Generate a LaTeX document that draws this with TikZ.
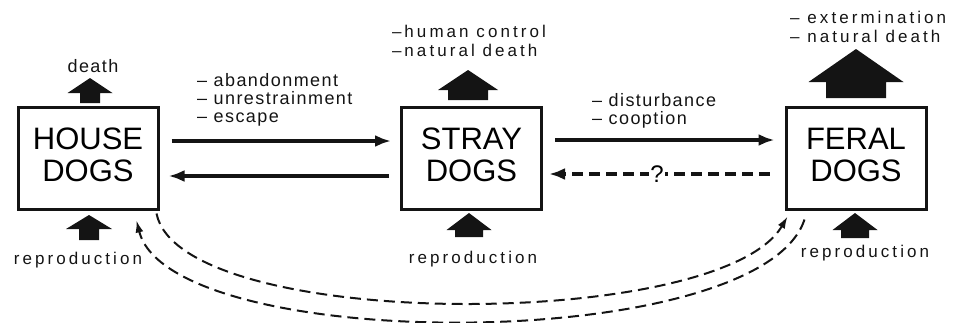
\documentclass[tikz,border=0pt]{standalone}
\usepackage{fontspec}
\setmainfont{Liberation Sans}
\newfontfamily\labfont[LetterSpace=8]{Liberation Sans}
\newfontfamily\widefont[LetterSpace=18]{Liberation Sans}
\usetikzlibrary{arrows.meta,calc}
\definecolor{ink}{HTML}{141414}
\tikzset{
  >={Latex[length=16pt,width=12pt]},
  dogbox/.style={draw=ink,line width=3pt,minimum width=140pt,minimum height=102pt,align=center,inner sep=0pt,text depth=7pt,font=\fontsize{31}{32}\selectfont},
  flow/.style={->,draw=ink,line width=3.2pt},
  maybe/.style={flow,dash pattern=on 11pt off 6pt},
  loop/.style={-{Latex[length=12pt,width=8pt]},draw=ink,line width=2pt,dash pattern=on 11pt off 6pt},
  lab/.style={font=\labfont\fontsize{18}{18}\selectfont,align=left,inner sep=0pt,text=ink},
  labw/.style={font=\widefont\fontsize{17}{19}\selectfont,align=left,inner sep=0pt,text=ink},
}
% block arrow: x, tip y, head width, head height, shaft width, foot y
\newcommand{\blockup}[6]{%
  \fill[ink] (#1,#2) -- ({#1+#3/2},{#2+#4}) -- ({#1+#5/2},{#2+#4}) -- ({#1+#5/2},#6)
    -- ({#1-#5/2},#6) -- ({#1-#5/2},{#2+#4}) -- ({#1-#3/2},{#2+#4}) -- cycle;}

\begin{document}
\begin{tikzpicture}[x=1pt,y=-1pt]
  \useasboundingbox (0,0) rectangle (957,322);
  % the three populations
  \node[dogbox] (house) at (88,158) {HOUSE\\DOGS};
  \node[dogbox] (stray) at (471.5,158) {STRAY\\DOGS};
  \node[dogbox] (feral) at (856,158) {FERAL\\DOGS};

  % flows between them
  \draw[flow] ([xshift=12pt,yshift=17pt]house.east) -- ([xshift=-9pt,yshift=17pt]stray.west);
  \draw[flow] ([xshift=-11pt,yshift=-18pt]stray.west) -- ([xshift=9pt,yshift=-18pt]house.east);
  \draw[flow] ([xshift=12pt,yshift=18pt]stray.east) -- ([xshift=-10pt,yshift=18pt]feral.west);
  \draw[maybe] ([xshift=-15pt,yshift=-16pt]feral.west) -- node[pos=0.51,fill=white,inner sep=1pt,font=\fontsize{24}{24}\selectfont] (q) {?} ([xshift=6pt,yshift=-16pt]stray.east);
  \draw[loop] ([xshift=-3pt,yshift=-3pt]house.south east) .. controls (180,332) and (720,332) .. ([xshift=3pt,yshift=-6pt]feral.south west);
  \draw[loop] ([xshift=20pt,yshift=-9pt]feral.south west) .. controls (760,355) and (170,355) .. ([xshift=-23pt,yshift=-10pt]house.south east);

  % gains and losses
  \blockup{90}{78}{45}{15}{20}{103}
  \blockup{89}{215}{46}{14}{20}{240}
  \blockup{468}{70}{60}{20}{40}{100}
  \blockup{469}{213}{45}{17}{28}{237}
  \blockup{856}{49}{95}{33}{60}{98}
  \blockup{855}{213}{45}{17}{28}{238}

  % labels
  \node[lab,anchor=base] (hdeath) at (93,72) {death};
  \node[lab,anchor=north west] (leave) at (197,73) {– abandonment\\– unrestrainment\\– escape};
  \node[lab,anchor=north west] (push) at (592,93) {– disturbance\\– cooption};
  \node[labw,anchor=north west] (sloss) at (392,25) {–\,human control\\–\,natural death};
  \node[labw,anchor=north west] (floss) at (790,11) {– extermination\\– natural death};
  \node[labw,anchor=base] (hrep) at (78,264) {reproduction};
  \node[labw,anchor=base] (srep) at (473,263) {reproduction};
  \node[labw,anchor=base] (frep) at (865,257) {reproduction};
\end{tikzpicture}
\end{document}
